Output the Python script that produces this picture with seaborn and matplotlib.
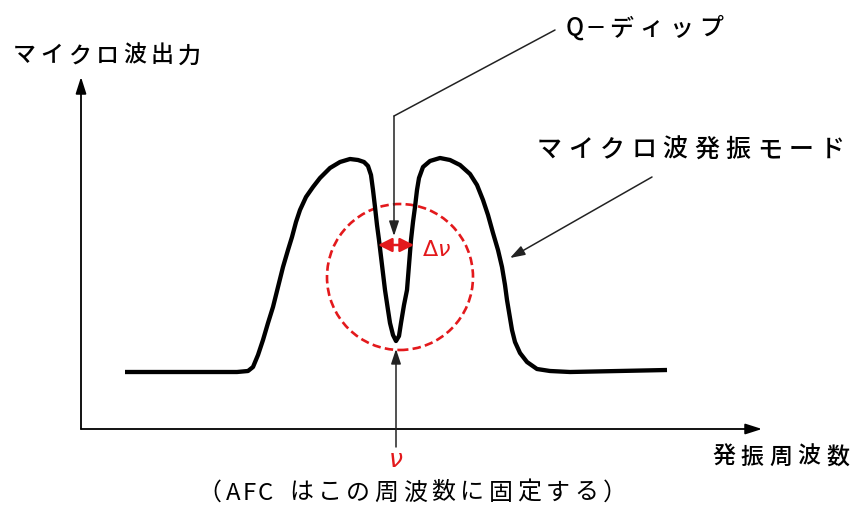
import unicodedata
import matplotlib
matplotlib.use('Agg')
import matplotlib.pyplot as plt
from matplotlib.patches import Circle
import seaborn as sns

# curve (arbitrary units: frequency vs. microwave power)
freq = [44, 156, 167, 172, 177, 182, 187, 192, 197, 202, 207, 211, 215, 219, 225,
        232, 239, 249, 259, 269, 277, 283, 287, 290, 292, 294, 296, 298, 301, 304,
        307, 309, 312, 315, 318, 320, 323, 326, 328, 330, 332, 334, 336, 338, 342,
        349, 359, 369, 379, 389, 396, 402, 407, 412, 417, 421, 424, 426, 429, 431,
        434, 439, 446, 456, 469, 489, 586]
power = [57, 57, 58, 62, 74, 89, 106, 122, 142, 162, 179, 192, 207, 219, 232,
         242, 251, 261, 267, 270, 269, 267, 263, 254, 239, 222, 204, 189, 164, 139,
         119, 106, 94, 88, 93, 106, 124, 139, 164, 189, 207, 222, 239, 251, 262,
         268, 271, 269, 264, 255, 244, 229, 214, 196, 179, 162, 144, 129, 111, 99,
         87, 76, 67, 60, 58, 57, 59]

# labels
y_label = 'マイクロ波出力'
x_label = '発振周波数'
dip_label = 'Q−ディップ'
mode_label = 'マイクロ波発振モード'
afc_label = '（AFC はこの周波数に固定する）'

RED = '#e3191c'
FONTS = ['Noto Sans CJK JP', 'DejaVu Sans']

sns.set_style('white')
plt.rcParams['font.family'] = FONTS


def spaced(ax, x0, y, s, em, gap, weight='medium'):
    # draw text char by char with extra tracking (em in px == data units)
    x = x0
    prev = ''
    for ch in s:
        wide = unicodedata.east_asian_width(ch) in 'WF'
        if ch == ' ':
            w = em * 0.3
        elif wide:
            w = em
        else:
            w = em * 0.62
        if ch.isascii() and ch.isalpha() and prev.isascii() and prev.isalpha():
            x -= gap * 0.7  # latin letters sit closer together
        fam = ['DejaVu Sans'] if ch == '−' else FONTS
        if ch != ' ':
            ax.text(x + w / 2, y, ch, ha='center', va='center',
                    fontsize=em * 0.72, color='black', family=fam, weight=weight)
        x += w + gap
        prev = ch


fig = plt.figure(figsize=(8.52, 5.05), dpi=100)
ax = fig.add_axes([81 / 852, 76 / 505, 681 / 852, 352 / 505])
ax.set_xlim(0, 681)
ax.set_ylim(0, 352)
ax.axis('off')

sns.lineplot(x=freq, y=power, sort=False, color='black', lw=3.1, ax=ax,
             solid_joinstyle='round', solid_capstyle='butt')

arrow_kw = dict(lw=1.1, color='#222222', mutation_scale=10, shrinkA=0, shrinkB=0,
                arrowstyle='-|>,head_length=0.9,head_width=0.3')

# axes with arrows
axis_kw = dict(arrowstyle='-|>,head_length=1.0,head_width=0.32',
               lw=1.3, color='black', mutation_scale=10, shrinkA=0, shrinkB=0)
ax.annotate('', xy=(681, 0), xytext=(0, 0), annotation_clip=False, arrowprops=axis_kw)
ax.annotate('', xy=(0, 352), xytext=(0, 0), annotation_clip=False, arrowprops=axis_kw)

# red dashed circle round the dip
ax.add_patch(Circle((319, 152), 73, fill=False, ec=RED, lw=1.9,
                    ls=(0, (3.2, 1.6))))

# delta nu
ax.annotate('', xy=(297, 184), xytext=(333, 184),
            arrowprops=dict(arrowstyle='<|-|>,head_length=0.7,head_width=0.35',
                            lw=1.8, color=RED, mutation_scale=12, shrinkA=0, shrinkB=0))
ax.text(356, 180, r'$\Delta\nu$', color=RED, fontsize=16, ha='center', va='center')

# Q-dip leader
ax.plot([474, 313], [399, 313], color='#222222', lw=1.1, clip_on=False)
ax.annotate('', xy=(313, 193), xytext=(313, 313), arrowprops=arrow_kw)
spaced(ax, 486, 401, dip_label, 24, 6)

# mode leader
ax.annotate('', xy=(429, 171), xytext=(571, 252), arrowprops=arrow_kw)
spaced(ax, 456, 279, mode_label, 25, 6.4)

# nu marker
ax.annotate('', xy=(315, 80), xytext=(315, -18), annotation_clip=False, arrowprops=arrow_kw)
ax.text(315, -31, r'$\nu$', color=RED, fontsize=18, ha='center', va='center')

# text labels
spaced(ax, -68, 373, y_label, 23, 4.5)
spaced(ax, 631, -28, x_label, 23, 5.5)
spaced(ax, 116, -64, afc_label, 24, 4.5, weight='normal')

fig.savefig('out.png', dpi=100)
